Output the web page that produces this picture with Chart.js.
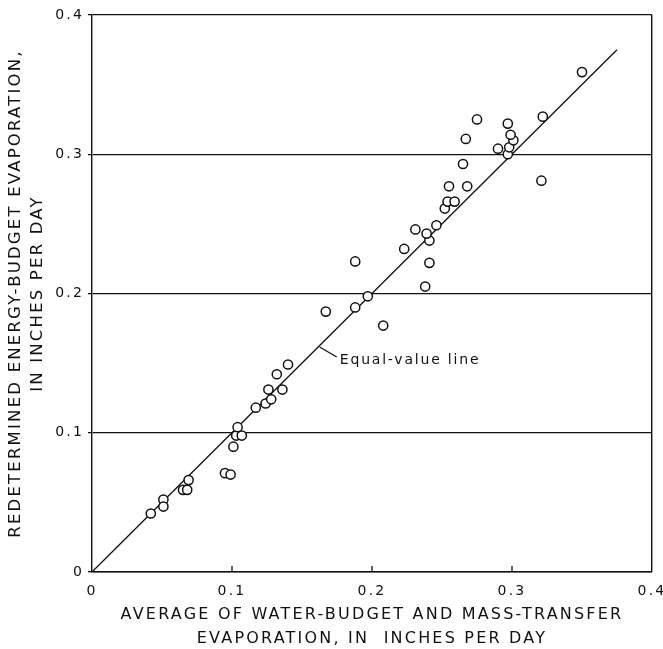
<!DOCTYPE html>
<html>
<head>
<meta charset="utf-8">
<script src="https://cdn.jsdelivr.net/npm/chart.js@4/dist/chart.umd.min.js"></script>
<style>
  html, body { margin: 0; padding: 0; background: #fff; }
  #wrap { width: 663px; height: 649px; position: relative; }
</style>
</head>
<body>
<div id="wrap"><canvas id="chart"></canvas></div>
<script>
// Average of water-budget and mass-transfer evaporation, inches per day
const waterMassAvg = [
  0.042, 0.051, 0.051, 0.065, 0.068, 0.069, 0.095, 0.099, 0.101, 0.103,
  0.107, 0.104, 0.117, 0.124, 0.128, 0.126, 0.136, 0.132, 0.140, 0.167,
  0.188, 0.197, 0.208, 0.188, 0.223, 0.231, 0.238, 0.241, 0.241, 0.239,
  0.246, 0.252, 0.254, 0.259, 0.255, 0.268, 0.265, 0.267, 0.275, 0.290,
  0.297, 0.298, 0.301, 0.299, 0.297, 0.321, 0.322, 0.350
];
// Redetermined energy-budget evaporation, inches per day
const energyBudget = [
  0.042, 0.052, 0.047, 0.059, 0.059, 0.066, 0.071, 0.070, 0.090, 0.098,
  0.098, 0.104, 0.118, 0.121, 0.124, 0.131, 0.131, 0.142, 0.149, 0.187,
  0.190, 0.198, 0.177, 0.223, 0.232, 0.246, 0.205, 0.222, 0.238, 0.243,
  0.249, 0.261, 0.266, 0.266, 0.277, 0.277, 0.293, 0.311, 0.325, 0.304,
  0.300, 0.305, 0.310, 0.314, 0.322, 0.281, 0.327, 0.359
];
// Equal-value line end points
const equalLineX = [0, 0.375];
const equalLineY = [0, 0.375];
// Leader from the line to its label
const leaderX = [0.1626, 0.1748];
const leaderY = [0.1616, 0.1544];
const lineLabel = 'Equal-value line';
const lineLabelAt = [0.1770, 0.1522];

const axisTicks = [0, 0.1, 0.2, 0.3, 0.4];
const xTitle = ['AVERAGE OF WATER-BUDGET AND MASS-TRANSFER', 'EVAPORATION, IN  INCHES PER DAY'];
const yTitle = ['REDETERMINED ENERGY-BUDGET EVAPORATION,', 'IN INCHES PER DAY'];

const FONT = "'DejaVu Sans', 'Liberation Sans', Arial, sans-serif";
const INK = '#111';
const SPACING = '2.2px';

const pts = waterMassAvg.map((x, i) => ({ x, y: energyBudget[i] }));
const eqLine = equalLineX.map((x, i) => ({ x, y: equalLineY[i] }));
const leader = leaderX.map((x, i) => ({ x, y: leaderY[i] }));

const fmt = v => (Math.abs(v) < 1e-9 ? '0' : v.toFixed(1));

// Letter spacing for all drawn text, plus inward x tick marks and the line label
const decor = {
  id: 'decor',
  beforeLayout(chart) { chart.ctx.letterSpacing = SPACING; },
  beforeDraw(chart) { chart.ctx.letterSpacing = SPACING; },
  afterDatasetsDraw(chart) {
    const { ctx, scales: { x, y }, chartArea } = chart;
    ctx.save();
    ctx.strokeStyle = INK;
    ctx.lineWidth = 1.3;
    ctx.beginPath();
    axisTicks.slice(1, -1).forEach(v => {
      const px = x.getPixelForValue(v);
      ctx.moveTo(px, chartArea.bottom);
      ctx.lineTo(px, chartArea.bottom - 6);
    });
    ctx.stroke();
    ctx.letterSpacing = '1.8px';
    ctx.fillStyle = INK;
    ctx.font = '14px ' + FONT;
    ctx.textAlign = 'left';
    ctx.textBaseline = 'middle';
    ctx.fillText(lineLabel, x.getPixelForValue(lineLabelAt[0]), y.getPixelForValue(lineLabelAt[1]));
    ctx.restore();
  }
};

new Chart(document.getElementById('chart'), {
  type: 'scatter',
  data: {
    datasets: [
      {
        type: 'line',
        data: eqLine,
        borderColor: INK,
        borderWidth: 1.3,
        pointRadius: 0,
        fill: false,
        order: 2
      },
      {
        type: 'line',
        data: leader,
        borderColor: INK,
        borderWidth: 1.3,
        pointRadius: 0,
        fill: false,
        order: 2
      },
      {
        data: pts,
        pointRadius: 4.6,
        pointBorderWidth: 1.5,
        pointBackgroundColor: '#fff',
        pointBorderColor: INK,
        order: 1
      }
    ]
  },
  options: {
    responsive: true,
    maintainAspectRatio: false,
    animation: false,
    layout: { padding: { top: 15, right: 11, left: 0, bottom: 0 } },
    plugins: { legend: { display: false }, tooltip: { enabled: false } },
    scales: {
      x: {
        type: 'linear',
        min: 0, max: 0.4,
        afterFit(s) { s.height = 77; s.paddingLeft = 0; s.paddingRight = 0; },
        afterBuildTicks(s) { s.ticks = axisTicks.map(v => ({ value: v })); },
        ticks: { callback: fmt, color: INK, font: { family: FONT, size: 14 }, padding: 11, maxRotation: 0 },
        grid: {
          drawTicks: false,
          lineWidth: 1.4,
          color: c => (c.index === axisTicks.length - 1 ? INK : 'rgba(0,0,0,0)')
        },
        border: { color: INK, width: 1.4 },
        title: {
          display: true,
          text: xTitle,
          color: INK,
          font: { family: FONT, size: 16, lineHeight: 1.45 },
          padding: { top: 0, bottom: -1 }
        }
      },
      y: {
        type: 'linear',
        min: 0, max: 0.4,
        afterFit(s) { s.width = 92; s.paddingTop = 0; s.paddingBottom = 0; },
        afterBuildTicks(s) { s.ticks = axisTicks.map(v => ({ value: v })); },
        ticks: { callback: fmt, color: INK, font: { family: FONT, size: 14 }, padding: 4 },
        grid: { color: INK, lineWidth: 1.3, tickLength: 4, drawTicks: true },
        border: { color: INK, width: 1.4 },
        title: {
          display: true,
          text: yTitle,
          color: INK,
          font: { family: FONT, size: 16.5, lineHeight: 1.32 },
          padding: { top: 5, bottom: 0 }
        }
      }
    }
  },
  plugins: [decor]
});
</script>
</body>
</html>
